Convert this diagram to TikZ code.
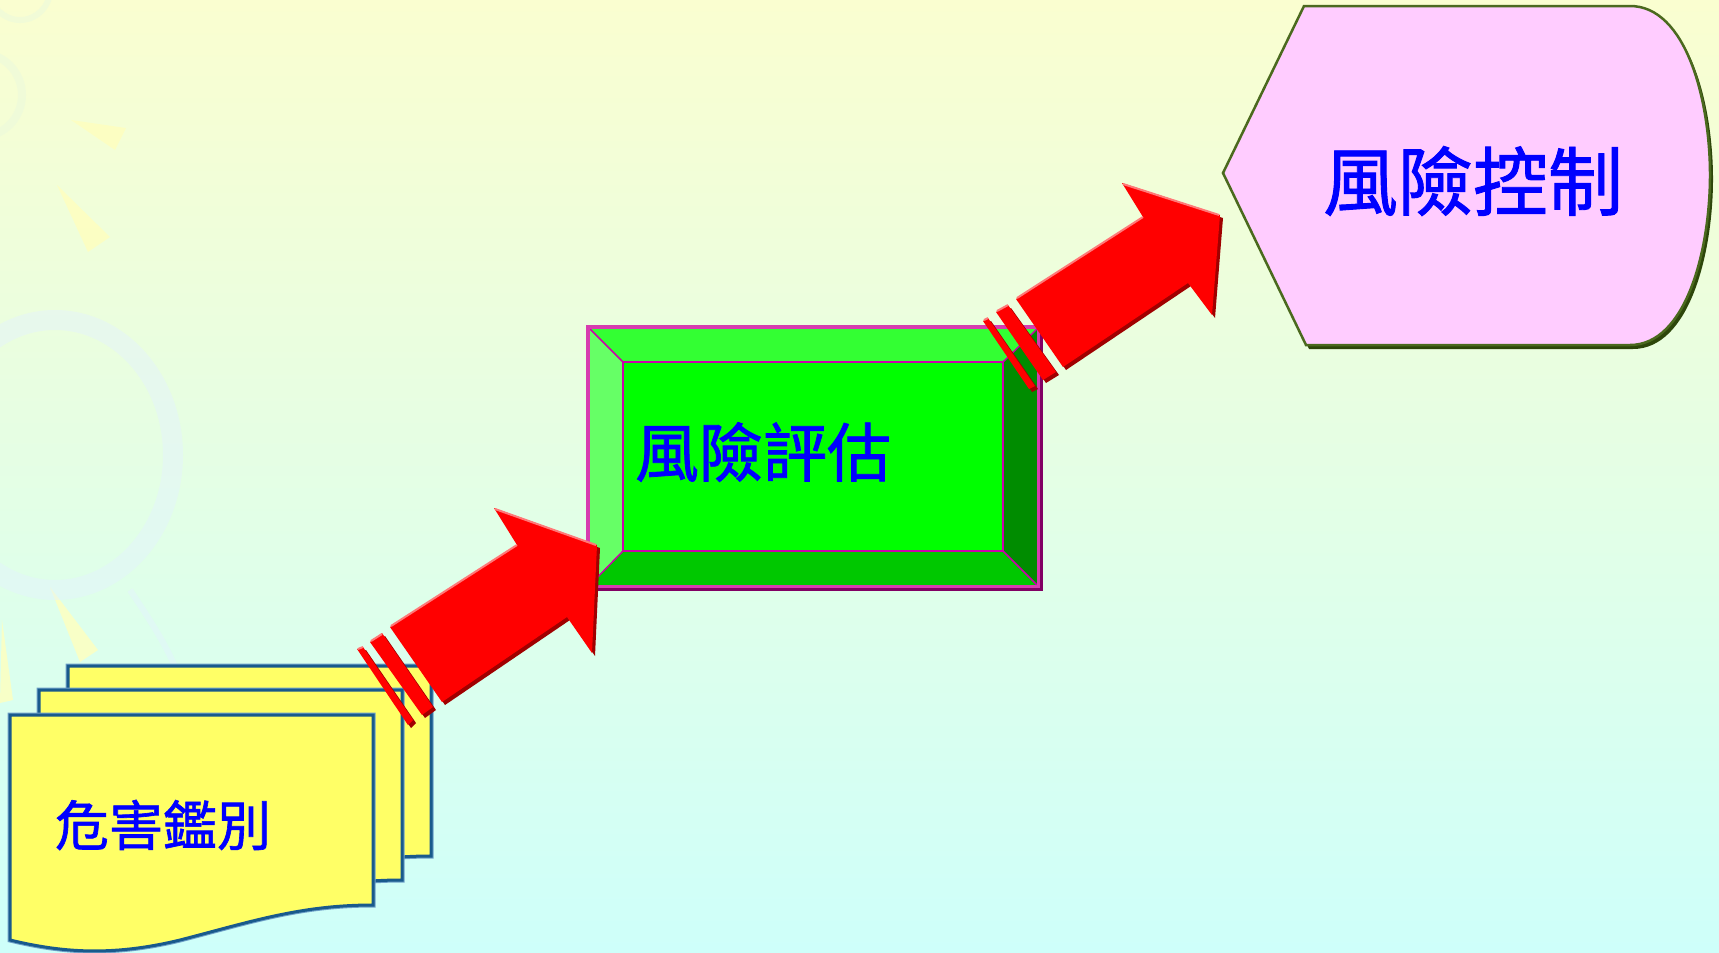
\documentclass[tikz,border=0pt]{standalone}
\usepackage{fontspec}
\newfontfamily\cjk[FakeBold=1.2]{Noto Sans CJK TC}
\definecolor{bgtop}{RGB}{250,254,208}
\definecolor{bgmid}{RGB}{232,255,226}
\definecolor{bgbot}{RGB}{206,255,250}
\definecolor{decoyel}{RGB}{255,255,190}
\definecolor{decoblue}{RGB}{228,242,255}
\definecolor{decogreen}{RGB}{236,250,220}
\definecolor{docyellow}{RGB}{255,255,102}
\definecolor{docblue}{RGB}{25,90,140}
\definecolor{docglow}{RGB}{110,160,200}
\definecolor{arrred}{RGB}{255,0,0}
\definecolor{arrdark}{RGB}{160,0,0}
\definecolor{arrlight}{RGB}{255,120,120}
\definecolor{gtop}{RGB}{51,255,51}
\definecolor{gleft}{RGB}{102,255,102}
\definecolor{gmid}{RGB}{0,255,0}
\definecolor{gbot}{RGB}{0,200,0}
\definecolor{gright}{RGB}{0,140,0}
\definecolor{gline}{RGB}{204,0,170}
\definecolor{gborder}{RGB}{215,60,175}
\definecolor{gborderdark}{RGB}{130,0,100}
\definecolor{pinkfill}{RGB}{255,204,255}
\definecolor{olive}{RGB}{75,105,30}
\definecolor{olivedark}{RGB}{45,70,10}
\definecolor{txtblue}{RGB}{0,0,255}
\tikzset{
  label/.style={text=txtblue, inner sep=0pt},
  docsheet/.style={fill=docyellow, draw=docblue, line width=3pt, line join=miter},
  bevelline/.style={draw=gline, line width=1.5pt},
}
\begin{document}
\begin{tikzpicture}[x=1pt,y=-1pt]
\useasboundingbox (0,0) rectangle (1719,953);
% background
\shade[top color=bgtop, middle color=bgmid, bottom color=bgbot] (0,0) rectangle (1719,953);
% faint decorations
\draw[decogreen, line width=8pt, opacity=0.6] (-20,95) circle [radius=42];
\draw[decogreen, line width=6pt, opacity=0.6] (20,-10) circle [radius=30];
\fill[decoyel, opacity=0.8] (71,120) -- (126,128) -- (115,150) -- cycle;
\fill[decoyel, opacity=0.8] (57,185) -- (110,237) -- (88,252) -- cycle;
\fill[decoyel, opacity=0.8] (50,587) -- (98,650) -- (80,662) -- cycle;
\fill[decoyel, opacity=0.8] (2,620) -- (13,700) -- (0,703) -- cycle;
\draw[decoblue, line width=20pt, opacity=0.45] (55,455) ellipse [x radius=118, y radius=135];
\draw[decoblue, line width=6pt, opacity=0.45] (130,590) .. controls (150,620) and (170,650) .. (180,680);
% document stack
\foreach \dx/\dy in {58/-49,29/-25,0/0}{
  \begin{scope}[shift={(\dx,\dy)}]
    \draw[docglow, line width=5pt, line join=miter] (10,715) -- (373,715) -- (373,905) .. controls (300,905) and (250,922) .. (180,940) .. controls (110,957) and (60,952) .. (10,940) -- cycle;
    \path[docsheet] (10,715) -- (373,715) -- (373,905) .. controls (300,905) and (250,922) .. (180,940) .. controls (110,957) and (60,952) .. (10,940) -- cycle;
  \end{scope}
}
\node[label, font=\cjk\fontsize{54}{54}\selectfont] (hazard) at (163,825) {危害鑑別};
% green bevel box
\coordinate (oTL) at (588,327); \coordinate (oTR) at (1039,327);
\coordinate (oBL) at (588,587); \coordinate (oBR) at (1039,587);
\coordinate (iTL) at (623,362); \coordinate (iTR) at (1003,362);
\coordinate (iBL) at (623,551); \coordinate (iBR) at (1003,551);
\fill[gtop] (oTL) -- (oTR) -- (iTR) -- (iTL) -- cycle;
\fill[gleft] (oTL) -- (iTL) -- (iBL) -- (oBL) -- cycle;
\fill[gbot] (oBL) -- (iBL) -- (iBR) -- (oBR) -- cycle;
\fill[gright] (oTR) -- (oBR) -- (iBR) -- (iTR) -- cycle;
\fill[gmid] (iTL) rectangle (iBR);
\draw[bevelline] (iTL) rectangle (iBR);
\draw[bevelline] (oTL) -- (iTL) (oTR) -- (iTR) (oBL) -- (iBL) (oBR) -- (iBR);
\draw[gborder, line width=3.5pt] (oTL) rectangle (oBR);
\draw[gborderdark, line width=3pt] ([shift={(2,2)}]oBL) -- ([shift={(2,2)}]oBR) -- ([shift={(2,2)}]oTR);
\node[label, font=\cjk\fontsize{64}{64}\selectfont] (assess) at (763,452) {風險評估};
% pink shape
\begin{scope}[shift={(3,4)}]
\fill[olivedark] (1223,173) -- (1304,6) -- (1630,6) .. controls (1686,6) and (1710,100) .. (1710,175) .. controls (1710,250) and (1686,345) .. (1630,345) -- (1306,345) -- cycle;
\end{scope}
\filldraw[fill=pinkfill, draw=olive, line width=2.5pt] (1223,173) -- (1304,6) -- (1630,6) .. controls (1686,6) and (1710,100) .. (1710,175) .. controls (1710,250) and (1686,345) .. (1630,345) -- (1306,345) -- cycle;
\node[label, font=\cjk\fontsize{75}{75}\selectfont] (control) at (1473,181) {風險控制};
% arrow 1
\foreach \dx/\dy/\c in {3/3/arrdark,0/0/arrred}{
  \fill[\c, shift={(\dx,\dy)}] (442,702) -- (390,627) -- (517,545) -- (494,508) -- (597,545) -- (592,653) -- (567,617) -- cycle;
  \fill[\c, shift={(\dx,\dy)}] (370,642) -- (382,633) -- (433,707) -- (422,715) -- cycle;
  \fill[\c, shift={(\dx,\dy)}] (357,649) -- (363,647) -- (413,720) -- (408,725) -- cycle;
}
\draw[arrlight, line width=2pt] (391,626) -- (517,545) (495,509) -- (596,545);
\draw[arrlight, line width=2pt] (371,641) -- (382,634) (358,649) -- (363,647);
% arrow 2
\foreach \dx/\dy/\c in {3/3/arrdark,0/0/arrred}{
  \fill[\c, shift={(\dx,\dy)}] (1063,367) -- (1016,299) -- (1143,217) -- (1122,183) -- (1220,215) -- (1212,315) -- (1188,283) -- cycle;
  \fill[\c, shift={(\dx,\dy)}] (996,312) -- (1008,305) -- (1056,372) -- (1043,380) -- cycle;
  \fill[\c, shift={(\dx,\dy)}] (983,321) -- (988,318) -- (1035,386) -- (1029,389) -- cycle;
}
\draw[arrlight, line width=2pt] (1017,298) -- (1143,217) (1123,184) -- (1219,215);
\draw[arrlight, line width=2pt] (997,311) -- (1008,305) (984,320) -- (988,318);
\end{tikzpicture}
\end{document}
